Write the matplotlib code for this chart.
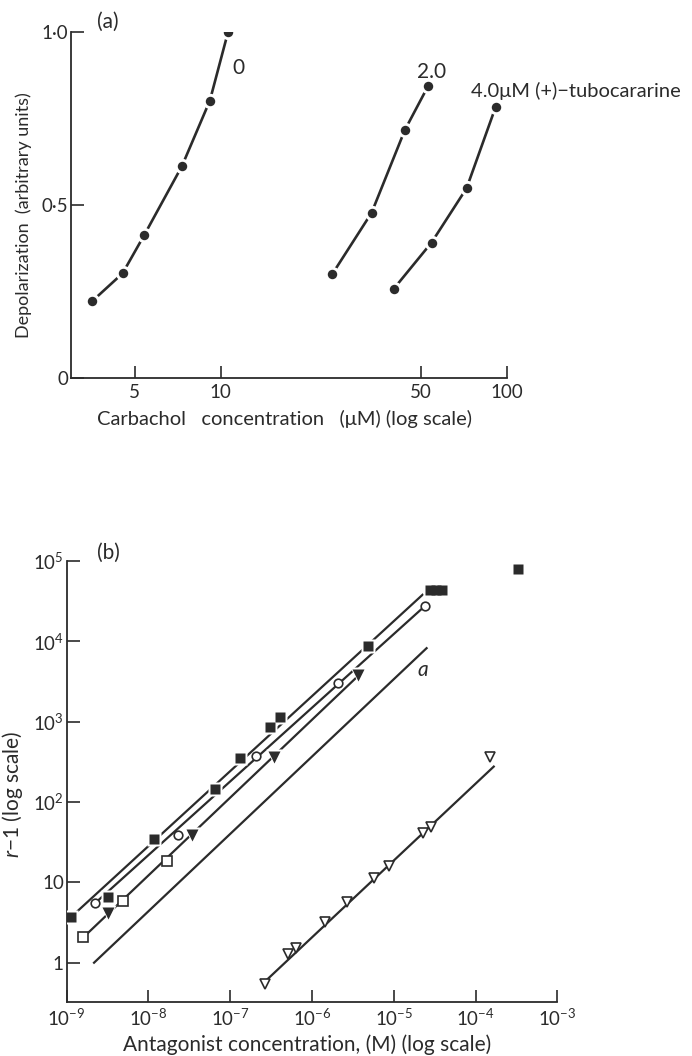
import numpy as np
import matplotlib.pyplot as plt

plt.rcParams['font.family'] = ['Lato', 'DejaVu Sans']
plt.rcParams['mathtext.fontset'] = 'custom'
plt.rcParams['mathtext.rm'] = 'Lato'
plt.rcParams['mathtext.it'] = 'Lato:italic'
plt.rcParams['mathtext.fallback'] = 'stixsans'

INK = '#2b2b2b'

# (a) carbachol (uM) vs depolarization at three tubocurarine levels
carb_0 = [3.56, 4.54, 5.40, 7.32, 9.16, 10.6]
dep_0 = [0.223, 0.303, 0.413, 0.613, 0.802, 1.0]
carb_2 = [24.5, 33.6, 43.9, 53.0]
dep_2 = [0.301, 0.478, 0.717, 0.845]
carb_4 = [40.2, 54.4, 72.1, 91.0]
dep_4 = [0.259, 0.392, 0.549, 0.783]
curve_labels = ['0', '2.0', '4.0μM (+)−tubocararine']

# (b) antagonist concentration (M) vs r-1
sqf_x = [1.12e-9, 3.16e-9, 1.17e-8, 6.46e-8, 1.32e-7, 3.09e-7, 4.07e-7,
         4.79e-6, 2.75e-5, 3.24e-5, 3.89e-5, 3.31e-4]
sqf_y = [3.7, 6.5, 35, 144, 351, 870, 1157, 8800, 43800, 43800, 43800, 80000]
circ_x = [2.22e-9, 2.31e-8, 2.06e-7, 2.09e-6, 2.4e-5]
circ_y = [5.5, 39, 375, 3070, 27700]
trif_x = [3.16e-9, 3.43e-8, 3.42e-7, 3.67e-6]
trif_y = [4.1, 39, 367, 3830]
sqo_x = [1.6e-9, 4.92e-9, 1.7e-8]
sqo_y = [2.07, 5.9, 18.6]
trio_x = [2.65e-7, 5.12e-7, 6.35e-7, 1.44e-6, 2.65e-6, 5.71e-6, 8.79e-6,
          2.25e-5, 2.82e-5, 1.5e-4]
trio_y = [0.55, 1.28, 1.51, 3.24, 5.75, 11.2, 16, 40.9, 49.4, 367]

# fitted lines: start / end of each
fit_x0 = [1.12e-9, 2.22e-9, 1.6e-9, 2.16e-9, 2.79e-7]
fit_x1 = [2.25e-5, 2.4e-5, 3.78e-6, 2.52e-5, 1.67e-4]
fit_y0 = [3.67, 5.5, 2.07, 1.0, 0.61]
fit_y1 = [38000, 27500, 3830, 8220, 276]

fig = plt.figure(figsize=(6.92, 10.56), dpi=100)

# ---- panel (a)
ax = fig.add_axes([71 / 692, 1 - 378.3 / 1056, 436.3 / 692, 346.3 / 1056])
for xs, ys in [(carb_0, dep_0), (carb_2, dep_2), (carb_4, dep_4)]:
    ax.plot(xs, ys, '-', color=INK, lw=1.9, zorder=2)
    ax.plot(xs, ys, 'o', ls='none', ms=11, mfc='white', mec='none', zorder=3)
    ax.plot(xs, ys, 'o', ls='none', ms=6.8, mfc=INK, mec='none', zorder=4)
ax.set_xscale('log')
ax.set_xlim(3, 100)
ax.set_ylim(0, 1.0)
ax.minorticks_off()
ax.set_xticks([5, 10, 50, 100])
ax.set_xticklabels(['5', '10', '50', '100'])
ax.set_yticks([0, 0.5, 1.0])
ax.set_yticklabels(['0', '0·5', '1·0'])
ax.annotate(curve_labels[0], (carb_0[-1], dep_0[-1]), xytext=(3, -26),
            textcoords='offset points', fontsize=15, color=INK, ha='left', va='center')
ax.annotate(curve_labels[1], (carb_2[-1], dep_2[-1]), xytext=(2, 10),
            textcoords='offset points', fontsize=15, color=INK, ha='center', va='center')
ax.annotate(curve_labels[2], (carb_4[-1], dep_4[-1]), xytext=(-18, 12),
            textcoords='offset points', fontsize=14.5, color=INK, ha='left', va='center')
ax.set_xlabel('Carbachol   concentration   (μM) (log scale)', fontsize=14.5, color=INK)
ax.xaxis.set_label_coords(0.49, -0.09)
ax.set_ylabel('Depolarization  (arbitrary units)', fontsize=13, color=INK)
ax.yaxis.set_label_coords(-0.09, 0.47)

# ---- panel (b)
bx = fig.add_axes([66.7 / 692, 1 - 1001.7 / 1056, 490.6 / 692, 440.7 / 1056])
bx.set_xscale('log')
bx.set_yscale('log')
for x0, x1, y0, y1 in zip(fit_x0, fit_x1, fit_y0, fit_y1):
    bx.plot([x0, x1], [y0, y1], '-', color=INK, lw=1.6, zorder=2)
# white halos under the filled symbols break the lines like the original
bx.plot(sqf_x, sqf_y, 's', ls='none', ms=10, mfc='white', mec='none', zorder=3)
bx.plot(trif_x, trif_y, 'v', ls='none', ms=11.5, mfc='white', mec='none', zorder=3)
bx.plot(sqf_x, sqf_y, 's', ls='none', ms=7, mfc=INK, mec='none', zorder=4)
bx.plot(trif_x, trif_y, 'v', ls='none', ms=8.5, mfc=INK, mec='none', zorder=4)
bx.plot(circ_x, circ_y, 'o', ls='none', ms=6.2, mfc='white', mec=INK, mew=1.2, zorder=4)
bx.plot(sqo_x, sqo_y, 's', ls='none', ms=6.6, mfc='white', mec=INK, mew=1.2, zorder=4)
bx.plot(trio_x, trio_y, 'v', ls='none', ms=7.2, mfc='white', mec=INK, mew=1.2, zorder=4)
bx.annotate('a', (fit_x1[3], fit_y1[3]), xytext=(-3, -16), textcoords='offset points',
            fontsize=15, style='italic', color=INK, ha='center', va='center')
bx.set_xlim(1e-9, 1e-3)
bx.set_ylim(0.327, 1e5)
bx.minorticks_off()
bx.set_xticks([1e-9, 1e-8, 1e-7, 1e-6, 1e-5, 1e-4, 1e-3])
bx.set_xticklabels([r'$10^{-%d}$' % k for k in range(9, 2, -1)])
bx.set_yticks([1, 10, 1e2, 1e3, 1e4, 1e5])
bx.set_yticklabels(['1', '10', r'$10^2$', r'$10^3$', r'$10^4$', r'$10^5$'])
bx.set_xlabel('Antagonist concentration, (M) (log scale)', fontsize=15, color=INK)
bx.xaxis.set_label_coords(0.49, -0.075)
bx.set_ylabel(r'$r$−1 (log scale)', fontsize=15, color=INK)
bx.yaxis.set_label_coords(-0.085, 0.47)

for a in (ax, bx):
    a.spines['top'].set_visible(False)
    a.spines['right'].set_visible(False)
    for s in ('left', 'bottom'):
        a.spines[s].set_linewidth(1.3)
        a.spines[s].set_color(INK)
    a.tick_params(direction='in', length=9, width=1.2, labelsize=13.5, colors=INK, pad=4)
    a.tick_params(axis='y', pad=2)
    a.set_facecolor('none')

fig.text(108 / 692, 1 - 22 / 1056, '(a)', fontsize=15, color=INK, ha='center', va='center')
fig.text(108 / 692, 1 - 553 / 1056, '(b)', fontsize=15, color=INK, ha='center', va='center')

fig.savefig('out.png', dpi=100)
